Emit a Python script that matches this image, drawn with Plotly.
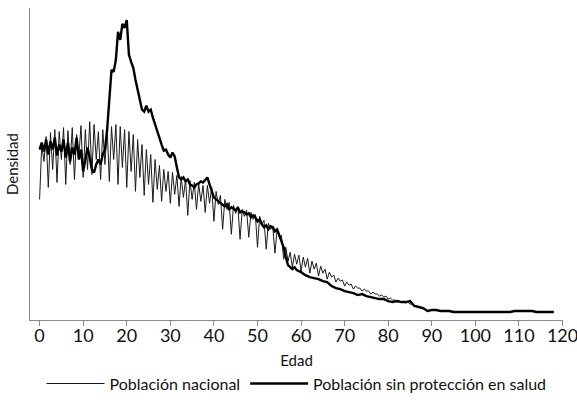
import numpy as np
import plotly.graph_objects as go

# Ages (years)
edad_nacional = np.arange(0, 88.5, 0.5)
edad_sin_prot = np.concatenate([np.arange(0, 60, 0.5), np.arange(60, 119, 1)])

# Density (arbitrary units)
dens_nacional = [
    121, 176, 159, 184, 133, 188, 151, 191, 138, 189, 161, 193, 136, 190, 156, 193, 141, 186, 163, 195,
    143, 191, 151, 199, 146, 196, 161, 189, 141, 191, 156, 193, 139, 194, 161, 196, 136, 194, 153, 191,
    133, 189, 149, 186, 129, 181, 143, 176, 125, 171, 136, 166, 118, 161, 131, 155, 119, 151, 129, 149,
    117, 148, 126, 145, 114, 144, 123, 141, 105, 140, 121, 138, 111, 137, 119, 135, 108, 135, 117, 133,
    99, 129, 116, 125, 91, 121, 111, 118, 86, 115, 107, 114, 81, 111, 104, 110, 83, 108, 101, 106,
    73, 104, 96, 100, 71, 97, 91, 94, 67, 91, 83, 85, 61, 73,
    59, 68, 53, 66, 56, 65, 49, 63, 53, 62, 47, 59, 51, 57, 44, 54, 47, 51, 41, 48, 43, 45, 38, 42, 39, 40,
    34, 38, 35, 36, 31, 34, 32, 32, 29, 31, 29, 29, 26, 28, 26, 26, 24, 25, 23, 24,
    21, 22, 20, 20, 18, 19, 18, 18, 17, 18, 16, 16, 14, 14, 13, 12, 11,
]
dens_sin_prot = [
    171, 178, 169, 181, 166, 179, 171, 183, 165, 176, 169, 181, 163, 178, 159, 173, 166, 183, 161, 171,
    149, 161, 173, 163, 151, 148, 156, 161, 156, 166, 171, 191, 226, 251, 249, 261, 289, 281, 297, 293,
    301, 266, 259, 253, 241, 231, 221, 211, 209, 215, 209, 211, 203, 196, 188, 183, 176, 170, 171, 166,
    163, 168, 164, 153, 143, 141, 143, 139, 141, 136, 135, 133, 136, 137, 139, 138, 141, 143, 136, 129,
    123, 121, 119, 117, 115, 114, 116, 111, 113, 111, 110, 113, 108, 109, 108, 106, 107, 103, 105, 103,
    99, 101, 96, 93, 95, 91, 94, 93, 89, 91, 85, 81, 73, 63, 55, 53, 51, 53, 50, 49,
    48, 45, 43, 42, 41, 39, 38, 34, 32, 31, 29, 28, 27, 25, 26, 24, 23, 22, 21, 21,
    19, 18, 19, 18, 18, 19, 14, 13, 12, 9, 10, 10, 9, 9, 9, 8, 8, 8, 8, 8,
    8, 8, 8, 8, 8, 8, 8, 8, 8, 9, 9, 9, 9, 9, 8, 8, 8, 8, 8,
]

x_ticks = [0, 10, 20, 30, 40, 50, 60, 70, 80, 90, 100, 110, 120]

FONT = "Lato"

fig = go.Figure()
fig.add_trace(go.Scatter(
    x=edad_nacional, y=dens_nacional, mode="lines", name="Población nacional",
    line=dict(color="#1a1a1a", width=1),
))
fig.add_trace(go.Scatter(
    x=edad_sin_prot, y=dens_sin_prot, mode="lines", name="Población sin protección en salud",
    line=dict(color="#000000", width=2.4),
))

fig.update_layout(
    width=577, height=407,
    margin=dict(l=30, r=14, t=8, b=86),
    paper_bgcolor="white", plot_bgcolor="white",
    font=dict(family=FONT, color="#111111"),
    showlegend=True,
    legend=dict(orientation="h", x=0.5, xanchor="center", y=-0.2, yanchor="middle",
                font=dict(size=16, family=FONT), traceorder="normal", itemwidth=58),
    xaxis=dict(range=[-2.2, 120.1], tickvals=x_ticks, ticktext=[str(v) for v in x_ticks],
               showline=True, linecolor="#8a8a8a", linewidth=1.2,
               ticks="outside", ticklen=5, tickcolor="#8a8a8a", tickwidth=1.2,
               showgrid=False, zeroline=False, automargin=False,
               ticklabelstandoff=-6, ticklabeloverflow="allow",
               tickfont=dict(size=18, family=FONT, color="#111111"),
               title=dict(text="Edad", font=dict(size=15, family=FONT), standoff=10)),
    yaxis=dict(range=[0, 313], showline=True, linecolor="#8a8a8a", linewidth=1.2,
               showticklabels=False, ticks="", showgrid=False, zeroline=False,
               automargin=False),
    annotations=[dict(text="Densidad", textangle=-90, xref="paper", yref="paper",
                      x=0, xanchor="center", xshift=-18, y=0.5, yanchor="middle",
                      showarrow=False,
                      font=dict(size=15, family=FONT, color="#111111"))],
)

fig.write_html("out.html", config={"displayModeBar": False},
               post_script="document.body.style.margin='0';")
